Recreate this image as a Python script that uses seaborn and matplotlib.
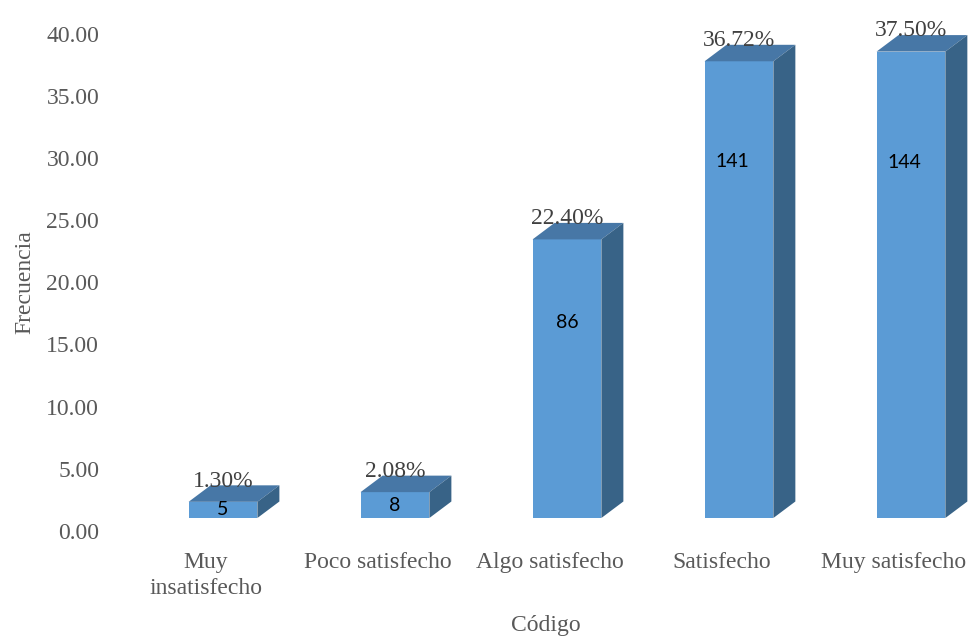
import numpy as np
import pandas as pd
import seaborn as sns
import matplotlib
matplotlib.use("Agg")
import matplotlib.pyplot as plt
from matplotlib.patches import Polygon
from matplotlib.transforms import ScaledTranslation

# Survey results: share of respondents (%) and absolute counts per level
categories = ["Muy\ninsatisfecho", "Poco satisfecho", "Algo satisfecho", "Satisfecho", "Muy satisfecho"]
percentages = [1.30, 2.08, 22.40, 36.72, 37.50]
counts = [5, 8, 86, 141, 144]
y_ticks = [0, 5, 10, 15, 20, 25, 30, 35, 40]

# Colours of the pseudo-3D columns
FRONT = "#5B9BD5"
TOP = "#4777A6"
SIDE = "#386387"

# Where each count label sits, as a fraction of the column height
count_label_frac = [0.5, 0.5, 0.70, 0.78, 0.762]

sns.set_theme(style="white")
plt.rcParams["font.family"] = ["Liberation Serif", "DejaVu Serif"]

W, H, DPI = 971, 640, 100
fig = plt.figure(figsize=(W / DPI, H / DPI), dpi=DPI)
ax_left, ax_bottom, ax_w, ax_h = 120, 109, 851, 497.5
ax = fig.add_axes([ax_left / W, ax_bottom / H, ax_w / W, ax_h / H])

df = pd.DataFrame({"Código": categories, "Frecuencia": percentages})
sns.barplot(data=df, x="Código", y="Frecuencia", color=FRONT, saturation=1,
            width=0.4, ax=ax, zorder=3, linewidth=0)

xmin, xmax = -0.5, 4.448
ax.set_xlim(xmin, xmax)
ax.set_ylim(0, 40)

# pixel -> data conversions
px_x = ax_w / (xmax - xmin)
px_y = ax_h / 40.0

# front faces sit slightly right of and above the category baseline
shift = ScaledTranslation(17 / DPI, 13 / DPI, fig.dpi_scale_trans)
tr = ax.transData + shift

# depth of the extruded faces
ddx = 22 / px_x
ddy = 16.5 / px_y

for i, p in enumerate(ax.patches):
    p.set_transform(tr)
    p.set_clip_on(False)
    x0 = p.get_x()
    w = p.get_width()
    h = p.get_height()
    top = Polygon([(x0, h), (x0 + w, h), (x0 + w + ddx, h + ddy), (x0 + ddx, h + ddy)],
                  closed=True, facecolor=TOP, edgecolor="none", transform=tr,
                  zorder=3, clip_on=False)
    side = Polygon([(x0 + w, 0), (x0 + w + ddx, ddy), (x0 + w + ddx, h + ddy), (x0 + w, h)],
                   closed=True, facecolor=SIDE, edgecolor="none", transform=tr,
                   zorder=3, clip_on=False)
    ax.add_patch(top)
    ax.add_patch(side)

    cx = x0 + w / 2
    ax.text(cx, h + ddy - 0.1, f"{percentages[i]:.2f}%", transform=tr,
            ha="center", va="baseline", fontsize=17, color="#404040",
            zorder=5, clip_on=False)
    ax.text(cx - (0.04 if h > 30 else 0), h * count_label_frac[i], f"{counts[i]}", transform=tr,
            ha="center", va="center", fontsize=14, color="black",
            family=["Lato", "DejaVu Sans"], zorder=5, clip_on=False)

ax.set_yticks(y_ticks)
ax.set_yticklabels([f"{v:.2f}" for v in y_ticks])
ax.tick_params(axis="y", length=0, pad=15, labelsize=17, labelcolor="#595959")
ax.tick_params(axis="x", length=0, pad=15, labelsize=17, labelcolor="#595959")
for lbl in ax.get_xticklabels():
    lbl.set_linespacing(1.3)

ax.set_xlabel("Código", fontsize=17, color="#595959")
ax.set_ylabel("Frecuencia", fontsize=17, color="#595959")
ax.xaxis.set_label_coords(0.5, -0.168)
ax.yaxis.set_label_coords(-0.1, 0.5)

for s in ax.spines.values():
    s.set_visible(False)
ax.grid(False)

fig.savefig("out.png", dpi=DPI, facecolor="white")
